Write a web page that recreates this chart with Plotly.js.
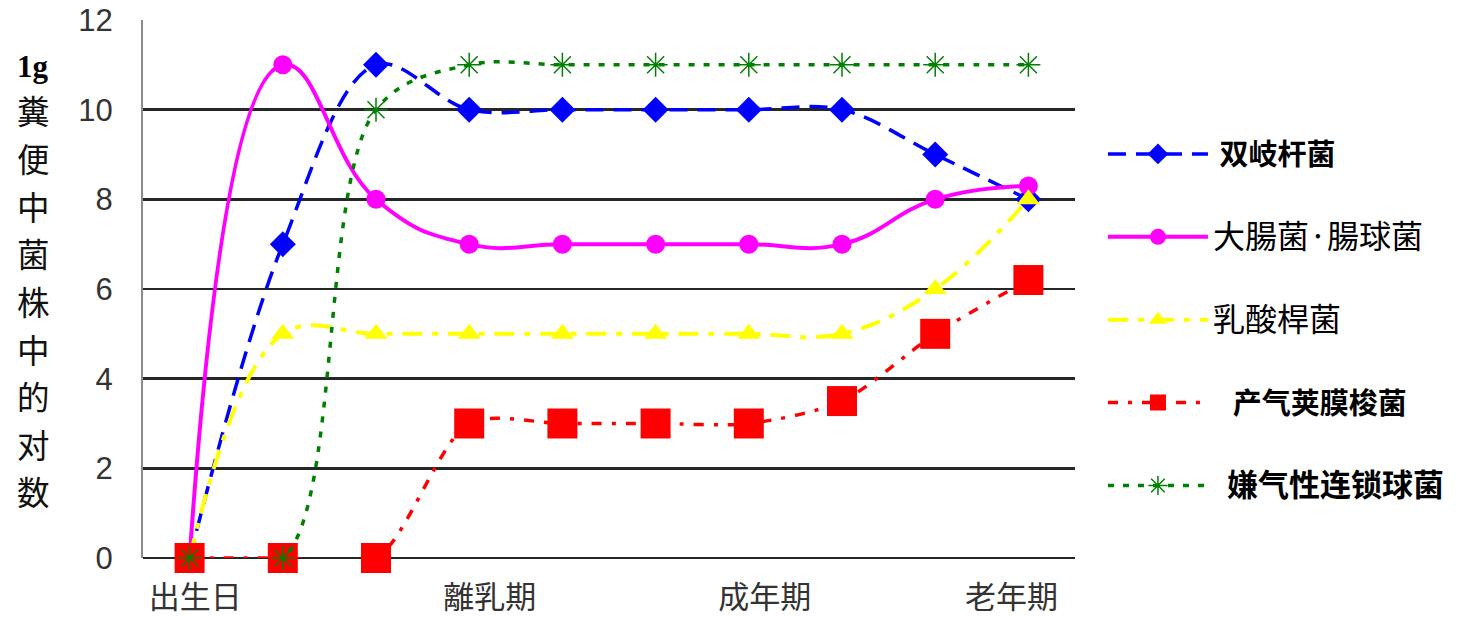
<!DOCTYPE html>
<html>
<head>
<meta charset="utf-8">
<script src="https://cdn.plot.ly/plotly-3.0.1.min.js"></script>
<style>
  html, body { margin: 0; padding: 0; background: #fff; }
  #chart { width: 1463px; height: 618px; }
</style>
</head>
<body>
<div id="chart"></div>
<script>
// Stage index along the lifetime (10 sampling points)
const stages = [0, 1, 2, 3, 4, 5, 6, 7, 8, 9];

// log10 of bacterial count per gram of faeces
const bifidobacterium = [0, 7, 11, 10, 10, 10, 10, 10, 9, 8];
const ecoliEnterococcus = [0, 11, 8, 7, 7, 7, 7, 7, 8, 8.3];
const lactobacillus = [0, 5, 5, 5, 5, 5, 5, 5, 6, 8];
const clostridium = [0, 0, 0, 3, 3, 3, 3, 3.5, 5, 6.2];
const anaerobicStrep = [0, 0, 10, 11, 11, 11, 11, 11, 11, 11];

// Life-stage labels on the horizontal axis
const stageLabels = ['出生日', '離乳期', '成年期', '老年期'];
const stageLabelPos = [0.06, 3.22, 6.17, 8.82];

const yTicks = [0, 2, 4, 6, 8, 10, 12];

// Vertical axis caption, one character per row
const yCaptionChars = ['糞', '便', '中', '菌', '株', '中', '的', '对', '数'];

const CJK = '"Noto Sans CJK JP", "Noto Sans CJK SC", sans-serif';

// plot area in pixels: left 143, width 932, bottom 558, height 538
const px = x => (x - 143) / 932;
const py = y => (558 - y) / 538;

function lbl(text, size, bold, family, pad) {
  return '<span style="font-size:' + size + 'px;font-family:' + family +
    (bold ? ';font-weight:bold' : '') + '">' + (pad || '') + text + '</span>';
}

const traces = [
  {
    x: stages, y: bifidobacterium, name: lbl('双岐杆菌', 29, true, "'Noto Sans CJK SC'", '&nbsp;'),
    mode: 'lines+markers', legendgroup: 'a', cliponaxis: false,
    line: { color: '#0000ff', width: 3.5, dash: '18px,10px', shape: 'spline', smoothing: 1 },
    marker: { symbol: 'diamond', size: 20, color: '#0000ff' }
  },
  {
    x: stages, y: ecoliEnterococcus, name: lbl('大腸菌·腸球菌', 32, false, "'Noto Sans CJK JP'"),
    mode: 'lines+markers', legendgroup: 'b', cliponaxis: false,
    line: { color: '#ff00ff', width: 4, shape: 'spline', smoothing: 1.3 },
    marker: { symbol: 'circle', size: 19, color: '#ff00ff' }
  },
  {
    x: stages, y: lactobacillus, name: lbl('乳酸桿菌', 32, false, "'Noto Sans CJK JP'"),
    mode: 'lines+markers', legendgroup: 'c', cliponaxis: false,
    line: { color: '#ffff00', width: 4, dash: '20px,10px,6px,10px', shape: 'spline', smoothing: 1.1 },
    marker: { symbol: 'triangle-up', size: 20, color: '#ffff00' }
  },
  {
    x: stages, y: clostridium, name: lbl('产气荚膜梭菌', 29, true, "'Noto Sans CJK SC'", '&nbsp;&nbsp;&nbsp;'),
    mode: 'lines+markers', legendgroup: 'd', cliponaxis: false,
    line: { color: '#ff0000', width: 3.5, dash: '10px,10px,4px,10px', shape: 'spline', smoothing: 0.8 },
    marker: { symbol: 'square', size: 30, color: '#ff0000' }
  },
  {
    x: stages, y: anaerobicStrep, name: lbl('嫌气性连锁球菌', 31, true, "'Noto Sans CJK SC'", '&nbsp;&nbsp;'),
    mode: 'lines+markers', legendgroup: 'e', cliponaxis: false,
    line: { color: '#008000', width: 3.5, dash: '6px,9px', shape: 'spline', smoothing: 1 },
    marker: { symbol: 'asterisk-open', size: 20, color: '#008000', line: { color: '#008000', width: 1.5 } }
  }
];

const annotations = [
  {
    xref: 'paper', yref: 'paper', x: px(33), y: py(66),
    xanchor: 'center', yanchor: 'middle',
    text: '<b>1g</b>', showarrow: false,
    font: { family: '"Liberation Serif", serif', size: 31, color: '#000' }
  }
].concat(yCaptionChars.map((ch, i) => ({
  xref: 'paper', yref: 'paper', x: px(33), y: py(110 + i * 47.6),
  xanchor: 'center', yanchor: 'middle',
  text: ch, showarrow: false,
  font: { family: '"Noto Sans CJK JP", sans-serif', size: 32.5, color: '#111' }
})));

const layout = {
  width: 1463, height: 618,
  margin: { l: 143, r: 388, t: 20, b: 60 },
  paper_bgcolor: '#ffffff', plot_bgcolor: '#ffffff',
  showlegend: true,
  legend: {
    x: 1.03, xanchor: 'left', y: 0.797, yanchor: 'top',
    bgcolor: 'rgba(0,0,0,0)', tracegroupgap: 43.5, itemwidth: 100,
    font: { family: CJK, size: 28, color: '#000' }
  },
  xaxis: {
    range: [-0.5, 9.5], fixedrange: true,
    tickmode: 'array', tickvals: stageLabelPos, ticktext: stageLabels,
    ticks: '', showgrid: false, zeroline: false,
    showline: false, ticklabelstandoff: 18,
    tickfont: { family: CJK, size: 31, color: '#333' }
  },
  yaxis: {
    range: [0, 12], fixedrange: true,
    tickmode: 'array', tickvals: yTicks,
    ticks: '', showgrid: true, gridcolor: '#262626', gridwidth: 2.5,
    zeroline: true, zerolinecolor: '#262626', zerolinewidth: 2.5,
    showline: true, linecolor: '#8c8c8c', linewidth: 2, mirror: false,
    ticklabelstandoff: 22,
    tickfont: { family: '"Liberation Sans Narrow", "Liberation Sans", sans-serif', size: 31, color: '#333' }
  },
  annotations: annotations
};

Plotly.newPlot('chart', traces, layout, { displayModeBar: false, staticPlot: true });
</script>
</body>
</html>
